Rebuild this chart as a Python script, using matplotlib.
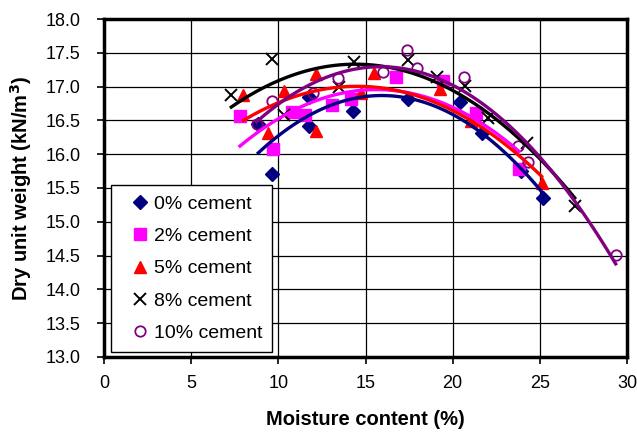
import matplotlib.pyplot as plt
import numpy as np

plt.rcParams['font.family'] = ['Liberation Sans', 'DejaVu Sans']

# moisture content (%) / dry unit weight (kN/m3)
mc_0 = [8.85, 9.65, 11.75, 11.75, 14.3, 17.45, 20.4, 21.7, 23.9, 25.2]
dw_0 = [16.44, 15.71, 16.42, 16.85, 16.64, 16.82, 16.77, 16.31, 15.75, 15.35]

mc_2 = [7.8, 9.7, 10.8, 11.55, 13.05, 14.15, 16.75, 19.45, 21.35, 23.8]
dw_2 = [16.57, 16.07, 16.62, 16.58, 16.73, 16.82, 17.14, 17.08, 16.61, 15.78]

mc_5 = [8.0, 9.4, 10.3, 12.15, 12.15, 14.75, 15.5, 19.3, 21.05, 25.1]
dw_5 = [16.87, 16.31, 16.93, 16.34, 17.18, 16.9, 17.2, 16.97, 16.49, 15.57]

mc_8 = [7.3, 9.65, 10.3, 13.5, 14.35, 17.45, 19.1, 20.7, 22.0, 24.25, 27.0]
dw_8 = [16.87, 17.41, 16.58, 17.0, 17.37, 17.39, 17.14, 17.01, 16.54, 16.17, 15.24]

mc_10 = [8.75, 9.65, 12.0, 13.4, 16.0, 17.4, 17.95, 20.65, 23.75, 24.3, 29.35]
dw_10 = [16.45, 16.78, 16.9, 17.12, 17.21, 17.54, 17.27, 17.14, 16.12, 15.89, 14.51]

labels = ['0% cement', '2% cement', '5% cement', '8% cement', '10% cement']
colors = ['#000080', '#ff00ff', '#ff0000', '#000000', '#800080']
markers = ['D', 's', '^', 'x', 'o']

series = [(mc_0, dw_0), (mc_2, dw_2), (mc_5, dw_5), (mc_8, dw_8), (mc_10, dw_10)]

fig = plt.figure(figsize=(6.37, 4.38), dpi=100)
ax = fig.add_axes([0.1633, 0.185, 0.821, 0.7716])

for (mc, dw), lab, col, mk in zip(series, labels, colors, markers):
    if mk == 'o':
        ax.plot(mc, dw, linestyle='none', marker=mk, markersize=7.5,
                markerfacecolor='none', markeredgecolor=col, markeredgewidth=1.3,
                label=lab, zorder=3)
    elif mk == 'x':
        ax.plot(mc, dw, linestyle='none', marker=mk, markersize=9,
                color=col, markeredgewidth=1.4, label=lab, zorder=3)
    else:
        ms = 7 if mk == 'D' else 8
        ax.plot(mc, dw, linestyle='none', marker=mk, markersize=ms,
                color=col, markeredgecolor=col, label=lab, zorder=3)

# polynomial trendlines (2nd order) as in the original spreadsheet
for (mc, dw), col in zip(series, colors):
    coef = np.polyfit(mc, dw, 2)
    xs = np.linspace(min(mc), max(mc), 100)
    ax.plot(xs, np.polyval(coef, xs), color=col, linewidth=2.4, zorder=4)

ax.set_xlim(0, 30)
ax.set_ylim(13, 18)
ax.set_xticks(range(0, 31, 5))
ax.set_yticks(np.arange(13, 18.01, 0.5))
ax.set_yticklabels([f'{v:.1f}' for v in np.arange(13, 18.01, 0.5)])
ax.grid(True, color='black', linewidth=0.9)
ax.set_axisbelow(True)
ax.tick_params(labelsize=13, direction='out', length=5, width=1.2)
ax.tick_params(axis='x', pad=8)
ax.tick_params(axis='y', pad=12)

for side in ['left', 'bottom', 'right', 'top']:
    ax.spines[side].set_linewidth(2.5)
    ax.spines[side].set_color('black')

ax.set_xlabel('Moisture content (%)', fontsize=14.5, fontweight='bold', labelpad=13)
ax.set_ylabel('Dry unit weight (kN/m$^\\mathbf{3}$)', fontsize=14.5, fontweight='bold', labelpad=8)

leg = ax.legend(loc='lower left', bbox_to_anchor=(0.0134, 0.015), borderaxespad=0,
                fontsize=14, frameon=True, fancybox=False, edgecolor='black',
                framealpha=1, handletextpad=-0.3, labelspacing=0.76,
                borderpad=0.5, handlelength=2.0)
leg.get_frame().set_linewidth(1.0)

fig.savefig('out.png', dpi=100, facecolor='white')
